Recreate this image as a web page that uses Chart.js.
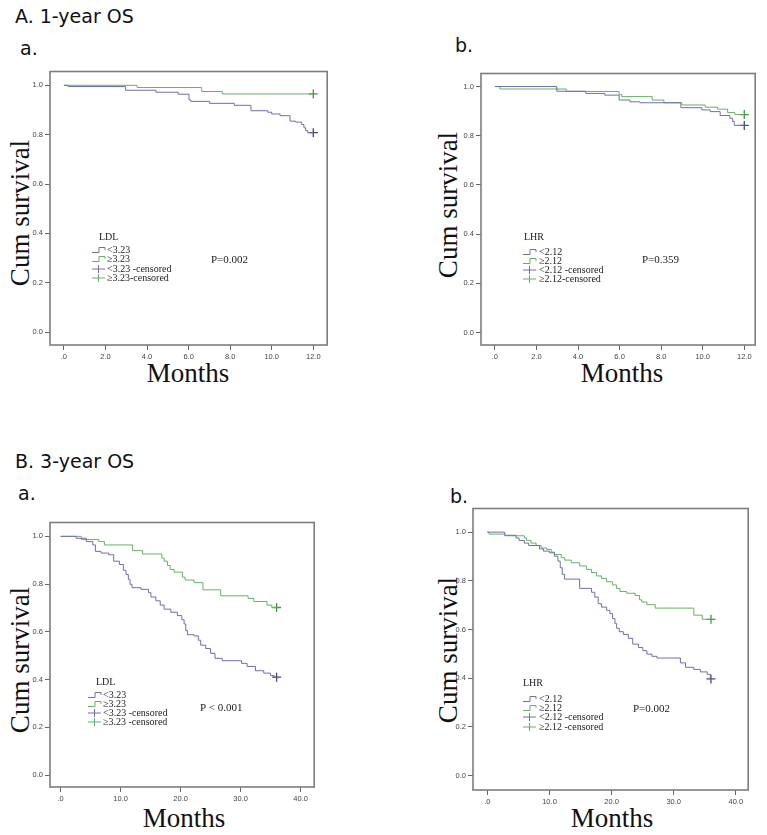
<!DOCTYPE html>
<html>
<head>
<meta charset="utf-8">
<script src="https://cdn.jsdelivr.net/npm/chart.js@4.4.0/dist/chart.umd.min.js"></script>
<style>
  body { margin: 0; background: #fff; width: 767px; height: 835px; position: relative; overflow: hidden; }
  .panel { position: absolute; }
  .head { position: absolute; font-family: "DejaVu Sans", sans-serif; font-size: 19px; color: #111; line-height: 1; white-space: nowrap; }
  .ylab { position: absolute; font-family: "Liberation Serif", serif; font-size: 27px; color: #111; line-height: 1; white-space: nowrap;
          transform: translate(-50%, -50%) rotate(-90deg); }
  .xlab { position: absolute; font-family: "Liberation Serif", serif; font-size: 27px; color: #111; line-height: 1; white-space: nowrap;
          transform: translateX(-50%); }
</style>
</head>
<body>
<div class="head" style="left:15px;top:7px">A. 1-year OS</div>
<div class="head" style="left:20px;top:39px">a.</div>
<div class="head" style="left:455px;top:36px">b.</div>
<div class="head" style="left:15px;top:452px">B. 3-year OS</div>
<div class="head" style="left:18px;top:484px">a.</div>
<div class="head" style="left:450px;top:487px">b.</div>

<div class="ylab" style="left:20px;top:213px">Cum survival</div>
<div class="ylab" style="left:448px;top:205px">Cum survival</div>
<div class="ylab" style="left:20px;top:660px">Cum survival</div>
<div class="ylab" style="left:448px;top:650px">Cum survival</div>
<div class="xlab" style="left:188px;top:360px">Months</div>
<div class="xlab" style="left:622px;top:360px">Months</div>
<div class="xlab" style="left:184px;top:805px">Months</div>
<div class="xlab" style="left:612px;top:805px">Months</div>

<script>
// tick values
const xTicks1y = [0, 2, 4, 6, 8, 10, 12];
const xTicks3y = [0, 10, 20, 30, 40];
const yTicks = [0, 0.2, 0.4, 0.6, 0.8, 1.0];

// A-a: 1-year OS by LDL
const aLdlLowT  = [0, 0.2, 2.96, 4.43, 5.5, 6.02, 6.1, 7.01, 8.2, 9.0, 9.81, 10.0, 10.4, 10.88, 11.15, 11.44, 11.55, 11.63, 11.73, 12];
const aLdlLowS  = [1.0, 0.995, 0.98, 0.972, 0.964, 0.941, 0.935, 0.927, 0.919, 0.897, 0.891, 0.884, 0.877, 0.855, 0.851, 0.841, 0.828, 0.817, 0.808, 0.808];
const aLdlHighT = [0, 3.52, 6.63, 7.62, 12];
const aLdlHighS = [1.0, 0.991, 0.975, 0.965, 0.965];

// A-b: 1-year OS by LHR
const aLhrLowT  = [0, 2.98, 4.38, 5.29, 5.98, 6.5, 6.98, 8.95, 9.96, 10.36, 10.84, 11.31, 11.44, 11.52, 12];
const aLhrLowS  = [1.0, 0.981, 0.972, 0.965, 0.945, 0.938, 0.934, 0.914, 0.905, 0.898, 0.882, 0.871, 0.858, 0.842, 0.842];
const aLhrHighT = [0, 0.24, 3.43, 5.98, 6.1, 7.57, 8.13, 9.0, 10.12, 10.72, 11.2, 11.55, 12];
const aLhrHighS = [1.0, 0.99, 0.98, 0.968, 0.959, 0.945, 0.934, 0.925, 0.916, 0.908, 0.894, 0.886, 0.886];

// B-a: 3-year OS by LDL
const bLdlLowT  = [0, 2.6, 4.27, 5.37, 5.8, 6.75, 8.0, 8.85, 9.8, 10.46, 10.9, 11.29, 11.57, 11.9, 13.4, 14.66, 15.05, 15.88, 16.6, 17.26,
                   18.37, 19.47, 20.2, 20.58, 20.86, 21.13, 22.24, 22.95, 23.35, 24.18, 25.0, 25.73, 26.94, 30.15, 31.09, 32.48, 33.86, 34.97, 35.6, 36];
const bLdlLowS  = [1.0, 0.992, 0.978, 0.964, 0.937, 0.93, 0.923, 0.896, 0.882, 0.858, 0.84, 0.82, 0.799, 0.785, 0.778, 0.764, 0.746, 0.73, 0.712, 0.695,
                   0.682, 0.668, 0.651, 0.633, 0.606, 0.588, 0.583, 0.565, 0.544, 0.53, 0.51, 0.489, 0.479, 0.468, 0.455, 0.437, 0.427, 0.417, 0.41, 0.41];
const bLdlHighT = [0, 3.43, 6.36, 7.3, 12.0, 13.66, 16.88, 17.26, 17.8, 18.26, 18.92, 20.3, 20.75, 22.24, 23.73, 26.67, 31.25, 32.2, 34.4, 35.2, 36];
const bLdlHighS = [1.0, 0.987, 0.978, 0.964, 0.94, 0.926, 0.909, 0.896, 0.878, 0.861, 0.85, 0.829, 0.817, 0.806, 0.776, 0.751, 0.74, 0.727, 0.712, 0.702, 0.702];

// B-b: 3-year OS by LHR
const bLhrLowT  = [0, 2.8, 4.6, 5.1, 5.95, 6.65, 8.38, 9.03, 10.0, 10.8, 11.35, 11.73, 12.05, 12.43, 14.86, 16.76, 17.3, 17.84, 18.38, 19.19,
                   19.73, 20.16, 20.54, 20.81, 21.24, 21.9, 22.7, 23.4, 24.32, 25.03, 25.68, 26.49, 27.3, 31.08, 31.9, 33.24, 34.3, 35.4, 35.9, 36];
const bLhrLowS  = [1.0, 0.987, 0.976, 0.966, 0.955, 0.945, 0.931, 0.922, 0.915, 0.901, 0.881, 0.854, 0.827, 0.807, 0.769, 0.753, 0.733, 0.706, 0.692, 0.679,
                   0.665, 0.645, 0.625, 0.605, 0.591, 0.58, 0.564, 0.54, 0.526, 0.513, 0.499, 0.49, 0.483, 0.463, 0.445, 0.436, 0.426, 0.416, 0.397, 0.397];
const bLhrHighT = [0, 0.27, 2.8, 5.95, 6.3, 7.0, 7.84, 8.65, 9.57, 10.27, 10.8, 11.9, 12.43, 13.5, 14.86, 15.95, 16.76, 17.57, 18.38, 19.19,
                   20.16, 20.8, 21.35, 22.43, 23.78, 24.49, 24.86, 25.68, 27.03, 33.24, 34.6, 36];
const bLhrHighS = [1.0, 0.992, 0.985, 0.976, 0.966, 0.955, 0.945, 0.935, 0.929, 0.918, 0.908, 0.895, 0.885, 0.874, 0.861, 0.847, 0.834, 0.82, 0.81, 0.796,
                   0.783, 0.769, 0.756, 0.749, 0.74, 0.722, 0.713, 0.702, 0.688, 0.659, 0.642, 0.642];

const ldlLabels1 = ['<3.23', '≥3.23', '<3.23 -censored', '≥3.23-censored'];
const lhrLabels1 = ['<2.12', '≥2.12', '<2.12 -censored', '≥2.12-censored'];
const ldlLabels3 = ['<3.23', '≥3.23', '<3.23 -censored', '≥3.23 -censored'];
const lhrLabels3 = ['<2.12', '≥2.12', '<2.12 -censored', '≥2.12 -censored'];

const BLUE = '#6e6eb4', GREEN = '#68b068';
const BLUE_C = '#45457f', GREEN_C = '#3d9a3d';
const YW = 36, XH = 26, PT = 3, PR = 4;

const pts = (t, s) => t.map((v, i) => ({ x: v, y: s[i] }));

const frame = {
  id: 'frame',
  afterDraw(chart) {
    const a = chart.chartArea, ctx = chart.ctx;
    ctx.save();
    ctx.strokeStyle = '#7d7d7d';
    ctx.lineWidth = 1.6;
    ctx.strokeRect(a.left, a.top, a.right - a.left, a.bottom - a.top);
    ctx.restore();
  }
};

// SPSS-style legend drawn inside the plot
const kmLegend = {
  id: 'kmLegend',
  afterDraw(chart, args, o) {
    const ctx = chart.ctx;
    const ox = o.ox, oy = o.oy;
    ctx.save();
    ctx.fillStyle = '#222';
    ctx.textBaseline = 'middle';
    ctx.font = '10px "Liberation Serif"';
    ctx.fillText(o.title, o.tx - ox, o.ty - oy);
    const cols = [BLUE, GREEN, BLUE, GREEN];
    o.labels.forEach((lab, i) => {
      const x0 = o.ix - ox, y = o.rows[i] - oy;
      ctx.strokeStyle = cols[i];
      ctx.lineWidth = 1;
      ctx.beginPath();
      if (i < 2) {
        ctx.moveTo(x0, y + 2.5); ctx.lineTo(x0 + 7, y + 2.5);
        ctx.lineTo(x0 + 7, y - 2.5); ctx.lineTo(x0 + 13, y - 2.5); ctx.lineTo(x0 + 13, y);
      } else {
        ctx.moveTo(x0, y); ctx.lineTo(x0 + 13, y);
        ctx.moveTo(x0 + 6.5, y - 4); ctx.lineTo(x0 + 6.5, y + 4);
      }
      ctx.stroke();
      ctx.fillText(lab, o.lx - ox, y);
    });
    ctx.font = '11px "Liberation Serif"';
    ctx.fillText(o.p, o.px - ox, o.py - oy);
    ctx.restore();
  }
};

function panel(p) {
  const cl = p.box[0] - YW, ct = p.box[1] - PT;
  const w = p.box[2] - p.box[0] + YW + PR, h = p.box[3] - p.box[1] + PT + XH;
  const wrap = document.createElement('div');
  wrap.className = 'panel';
  wrap.style.cssText = `left:${cl}px;top:${ct}px;width:${w}px;height:${h}px`;
  const cv = document.createElement('canvas');
  wrap.appendChild(cv);
  document.body.appendChild(wrap);

  const tickFont = { family: '"Liberation Sans", Arial, sans-serif', size: 7.5 };
  const grid = { display: true, drawOnChartArea: false, drawTicks: true, tickLength: 5, color: '#666', lineWidth: 1 };
  const lastLow = p.lowT.length - 1, lastHigh = p.highT.length - 1;

  new Chart(cv, {
    type: 'line',
    data: {
      datasets: [
        // 'before': horizontal to the next event time, then drop
        { data: pts(p.lowT, p.lowS), borderColor: BLUE, borderWidth: 1, stepped: 'before', pointRadius: 0 },
        { data: pts(p.highT, p.highS), borderColor: GREEN, borderWidth: 1, stepped: 'before', pointRadius: 0 },
        { type: 'scatter', data: [{ x: p.lowT[lastLow], y: p.lowS[lastLow] }], pointStyle: 'cross',
          pointRadius: 4.5, borderColor: BLUE_C, borderWidth: 1.3, showLine: false },
        { type: 'scatter', data: [{ x: p.highT[lastHigh], y: p.highS[lastHigh] }], pointStyle: 'cross',
          pointRadius: 4.5, borderColor: GREEN_C, borderWidth: 1.3, showLine: false }
      ]
    },
    options: {
      responsive: true,
      maintainAspectRatio: false,
      animation: false,
      layout: { padding: { top: PT, right: PR, left: 0, bottom: 0 } },
      plugins: {
        legend: { display: false },
        tooltip: { enabled: false },
        kmLegend: Object.assign({ ox: cl, oy: ct }, p.legend)
      },
      scales: {
        x: {
          type: 'linear', min: p.xMin, max: p.xMax,
          afterBuildTicks: s => { s.ticks = p.xTicks.map(v => ({ value: v })); },
          afterFit: s => { s.height = XH; },
          grid: grid, border: { display: false },
          ticks: { font: tickFont, color: '#444', padding: 2, maxRotation: 0, autoSkip: false,
                   callback: v => v === 0 ? '.0' : v.toFixed(1) }
        },
        y: {
          type: 'linear', min: p.yMin, max: p.yMax,
          afterBuildTicks: s => { s.ticks = yTicks.map(v => ({ value: v })); },
          afterFit: s => { s.width = YW; },
          grid: grid, border: { display: false },
          ticks: { font: tickFont, color: '#444', padding: 2, autoSkip: false, callback: v => v.toFixed(1) }
        }
      }
    },
    plugins: [frame, kmLegend]
  });
}

panel({
  box: [50, 68, 329, 345], xMin: -0.669, xMax: 12.669, yMin: -0.052, yMax: 1.056, xTicks: xTicks1y,
  lowT: aLdlLowT, lowS: aLdlLowS, highT: aLdlHighT, highS: aLdlHighS,
  legend: { title: 'LDL', tx: 99, ty: 237, rows: [250, 259, 269, 278], ix: 92, lx: 107,
            labels: ldlLabels1, p: 'P=0.002', px: 211, py: 260 }
});
panel({
  box: [481, 70, 757, 345], xMin: -0.669, xMax: 12.526, yMin: -0.051, yMax: 1.053, xTicks: xTicks1y,
  lowT: aLhrLowT, lowS: aLhrLowS, highT: aLhrHighT, highS: aLhrHighS,
  legend: { title: 'LHR', tx: 524, ty: 237, rows: [252, 261, 270, 279], ix: 523, lx: 539,
            labels: lhrLabels1, p: 'P=0.359', px: 642, py: 260 }
});
panel({
  box: [50, 519, 316, 787], xMin: -1.77, xMax: 42.27, yMin: -0.05, yMax: 1.058, xTicks: xTicks3y,
  lowT: bLdlLowT, lowS: bLdlLowS, highT: bLdlHighT, highS: bLdlHighS,
  legend: { title: 'LDL', tx: 96, ty: 682, rows: [695, 704, 713, 722], ix: 88, lx: 103,
            labels: ldlLabels3, p: 'P < 0.001', px: 200, py: 708 }
});
panel({
  box: [473, 505, 750, 790], xMin: -2.32, xMax: 42.0, yMin: -0.059, yMax: 1.097, xTicks: xTicks3y,
  lowT: bLhrLowT, lowS: bLhrLowS, highT: bLhrHighT, highS: bLhrHighS,
  legend: { title: 'LHR', tx: 523, ty: 683, rows: [699, 708, 717, 727], ix: 523, lx: 539,
            labels: lhrLabels3, p: 'P=0.002', px: 633, py: 709 }
});
</script>
</body>
</html>
